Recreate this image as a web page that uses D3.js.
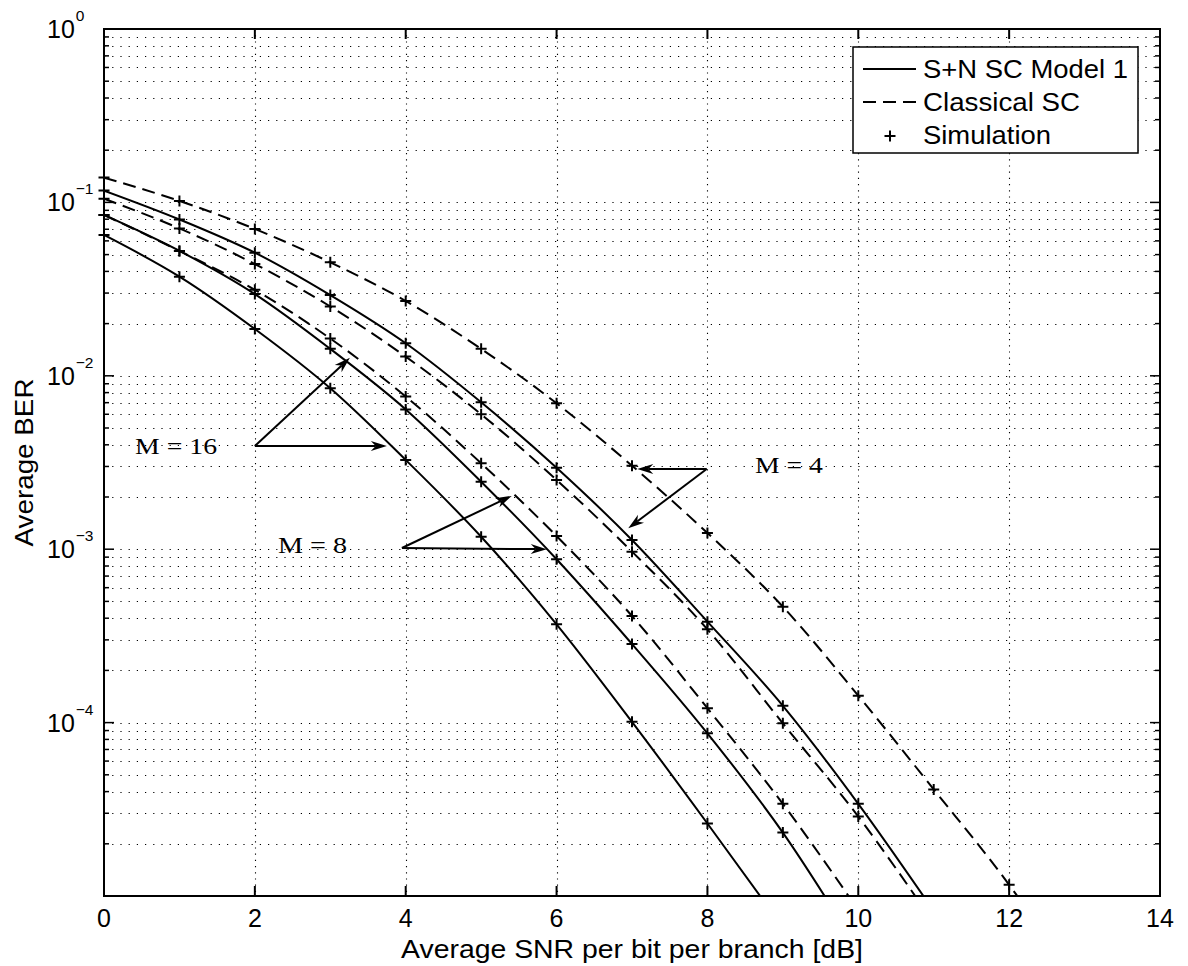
<!DOCTYPE html>
<html><head><meta charset="utf-8">
<script src="https://cdn.jsdelivr.net/npm/d3@7"></script>
<style>body{margin:0;background:#fff}</style>
</head><body><svg id="c" width="1188" height="966"></svg>
<script>
// ---- data ----
const snrDb = [0,1,2,3,4,5,6,7,8,9,10,11,12,13];
// theoretical curves (last value lies below the axis floor and is clipped)
const classicalM4  = [0.139,0.102,0.0703,0.0451,0.0270,0.0143,0.00694,0.00303,0.00124,4.66e-4,1.43e-4,4.12e-5,1.16e-5,2.7e-6];
const snModelM4    = [0.117,0.0798,0.0513,0.0292,0.0154,0.00703,0.00295,0.00113,3.82e-4,1.25e-4,3.4e-5,8.2e-6];
const classicalM8  = [0.105,0.0708,0.0441,0.0251,0.0129,0.0060,0.00251,9.68e-4,3.45e-4,9.9e-5,2.87e-5,7.0e-6];
const classicalM16 = [0.0846,0.0525,0.0313,0.0164,0.0076,0.00313,0.00119,4.12e-4,1.21e-4,3.4e-5,8.3e-6];
const snModelM8    = [0.0846,0.0525,0.0296,0.0143,0.0064,0.00245,8.75e-4,2.84e-4,8.67e-5,2.32e-5,4.9e-6];
const snModelM16   = [0.0649,0.0373,0.0186,0.00847,0.00327,0.00118,3.69e-4,1.01e-4,2.62e-5,6.6e-6];
// simulation points
const simM4a  = [0.139,0.102,0.0703,0.0451,0.0270,0.0143,0.00694,0.00303,0.00124,4.66e-4,1.43e-4,4.12e-5,1.16e-5];
const simM4b  = [0.117,0.0798,0.0513,0.0292,0.0154,0.00703,0.00295,0.00113,3.82e-4,1.25e-4,3.4e-5];
const simM8a  = [0.105,0.0708,0.0441,0.0251,0.0129,0.0060,0.00251,9.68e-4,3.45e-4,9.9e-5,2.87e-5];
const simM16a = [0.0846,0.0525,0.0313,0.0164,0.0076,0.00313,0.00119,4.12e-4,1.21e-4,3.4e-5];
const simM8b  = [0.0846,0.0525,0.0296,0.0143,0.0064,0.00245,8.75e-4,2.84e-4,8.67e-5,2.32e-5];
const simM16b = [0.0649,0.0373,0.0186,0.00847,0.00327,0.00118,3.69e-4,1.01e-4,2.62e-5];

const xTicks = [0,2,4,6,8,10,12,14];
const yTickExps = [0,-1,-2,-3,-4];
const legendLabels = ["S+N SC Model 1","Classical SC","Simulation"];
const xTitle = "Average SNR per bit per branch [dB]";
const yTitle = "Average BER";
// annotations: label, label centre, arrow start, arrow tips (data units)
const annLabels  = ["M = 16","M = 8","M = 4"];
const annLabelAt = [[0.955,3.94e-3],[2.764,1.057e-3],[9.08,3.06e-3]];
const annFrom    = [[2.0,3.94e-3],[3.95,1.016e-3],[7.99,2.9e-3]];
const annTips    = [[[3.26,0.0127],[3.75,3.94e-3]],[[5.405,2.03e-3],[5.87,1.0e-3]],[[7.07,2.9e-3],[6.95,1.32e-3]]];

// ---- layout ----
const L=104,R=1160,T=29,B=896;
const svg=d3.select("#c");
const x=d3.scaleLinear().domain([0,14]).range([L,R]);
const y=d3.scaleLog().domain([1e-5,1]).range([B,T]);
const sans="'Liberation Sans',Arial,Helvetica,sans-serif";
const serif="'Liberation Serif','Times New Roman',serif";

svg.append("rect").attr("width",1188).attr("height",966).attr("fill","#fff");
svg.append("defs").append("clipPath").attr("id","pc").append("rect")
  .attr("x",L).attr("y",T).attr("width",R-L).attr("height",B-T);

// grid
const minorVals=[];
for(let k=-5;k<0;k++) for(let m=1;m<10;m++){const v=m*Math.pow(10,k); if(v>1e-5) minorVals.push(v);}
const g=svg.append("g").attr("stroke","#000").attr("stroke-width",1.1);
g.selectAll("line.h").data(minorVals).join("line").attr("class","h").attr("stroke-dasharray","1.2,7")
  .attr("x1",L).attr("x2",R).attr("y1",d=>Math.round(y(d))+0.5).attr("y2",d=>Math.round(y(d))+0.5);
g.selectAll("line.v").data(xTicks.filter(d=>d>0&&d<14)).join("line").attr("class","v").attr("stroke-dasharray","1.2,5")
  .attr("y1",T).attr("y2",B).attr("x1",d=>Math.round(x(d))+0.5).attr("x2",d=>Math.round(x(d))+0.5);

// curves
const line=d3.line().x((d,i)=>x(snrDb[i])).y(d=>y(d)).curve(d3.curveMonotoneX);
const curves=[
  {v:classicalM4,dash:true},{v:snModelM4,dash:false},{v:classicalM8,dash:true},
  {v:classicalM16,dash:true},{v:snModelM8,dash:false},{v:snModelM16,dash:false}];
const cg=svg.append("g").attr("clip-path","url(#pc)");
curves.forEach(c=>{
  cg.append("path").attr("d",line(c.v)).attr("fill","none").attr("stroke","#000")
    .attr("stroke-width",2).attr("stroke-dasharray",c.dash?"13,7":null);
});

// simulation markers
function plus(gg,px,py,s){
  gg.append("path").attr("d",`M${px-s},${py}H${px+s}M${px},${py-s}V${py+s}`)
    .attr("stroke","#000").attr("stroke-width",2).attr("fill","none");
}
const mg=svg.append("g");
[simM4a,simM4b,simM8a,simM16a,simM8b,simM16b].forEach(arr=>{
  arr.forEach((v,i)=>plus(mg,x(snrDb[i]),y(v),5.5));
});

// axes box + ticks
const ax=svg.append("g").attr("stroke","#000").attr("stroke-width",2);
ax.append("rect").attr("x",L).attr("y",T).attr("width",R-L).attr("height",B-T).attr("fill","none");
xTicks.forEach(t=>{
  ax.append("line").attr("x1",x(t)).attr("x2",x(t)).attr("y1",B).attr("y2",B-10);
  ax.append("line").attr("x1",x(t)).attr("x2",x(t)).attr("y1",T).attr("y2",T+10);
});
minorVals.forEach(v=>{
  const major=Math.abs(Math.log10(v)-Math.round(Math.log10(v)))<1e-9;
  const len=major?10:5;
  ax.append("line").attr("x1",L).attr("x2",L+len).attr("y1",y(v)).attr("y2",y(v)).attr("stroke-width",1.5);
  ax.append("line").attr("x1",R).attr("x2",R-len).attr("y1",y(v)).attr("y2",y(v)).attr("stroke-width",1.5);
});

// tick labels
svg.append("g").selectAll("text").data(xTicks).join("text")
  .attr("x",d=>x(d)).attr("y",927).attr("text-anchor","middle")
  .attr("font-family",sans).attr("font-size",25).text(d=>d);
const yl=svg.append("g").attr("font-family",sans);
yTickExps.forEach(e=>{
  const t=yl.append("text").attr("x",47).attr("y",y(Math.pow(10,e))+9).attr("font-size",25);
  t.append("tspan").text("10");
  t.append("tspan").attr("dx",1).attr("dy",-17).attr("font-size",15.5).text(e<0?"\u2212"+(-e):String(e));
});

// axis titles
svg.append("text").attr("x",(L+R)/2).attr("y",958).attr("text-anchor","middle")
  .attr("font-family",sans).attr("font-size",25).attr("textLength",462).attr("lengthAdjust","spacingAndGlyphs").text(xTitle);
svg.append("text").attr("transform",`translate(33,${(T+B)/2}) rotate(-90)`).attr("text-anchor","middle")
  .attr("font-family",sans).attr("font-size",26).attr("textLength",168).attr("lengthAdjust","spacingAndGlyphs").text(yTitle);

// legend
const lg=svg.append("g");
lg.append("rect").attr("x",853).attr("y",47).attr("width",285).attr("height",106)
  .attr("fill","#fff").attr("stroke","#000").attr("stroke-width",1.5);
const legY=[69,102,135], legW=[205,157,128];
lg.append("line").attr("x1",863).attr("x2",916).attr("y1",legY[0]).attr("y2",legY[0]).attr("stroke","#000").attr("stroke-width",2);
lg.append("line").attr("x1",863).attr("x2",920).attr("y1",legY[1]).attr("y2",legY[1]).attr("stroke","#000").attr("stroke-width",2).attr("stroke-dasharray","13,7");
plus(lg,890,legY[2]+1,5.5);
legendLabels.forEach((s,i)=>{
  lg.append("text").attr("x",923).attr("y",legY[i]+9).attr("font-family",sans).attr("font-size",26)
    .attr("textLength",legW[i]).attr("lengthAdjust","spacingAndGlyphs").text(s);
});

// annotations
const an=svg.append("g");
function arrow(x1,y1,x2,y2){
  const dx=x2-x1, dy=y2-y1, len=Math.hypot(dx,dy), ux=dx/len, uy=dy/len, nx=-uy, ny=ux;
  const Lh=16, Wh=5;
  const bx=x2-Lh*ux, by=y2-Lh*uy, nbx=x2-0.7*Lh*ux, nby=y2-0.7*Lh*uy;
  an.append("line").attr("x1",x1).attr("y1",y1).attr("x2",nbx).attr("y2",nby).attr("stroke","#000").attr("stroke-width",2);
  an.append("path").attr("d",`M${x2},${y2}L${bx+Wh*nx},${by+Wh*ny}L${nbx},${nby}L${bx-Wh*nx},${by-Wh*ny}Z`).attr("fill","#000");
}
annLabels.forEach((lab,i)=>{
  const [fx,fy]=annFrom[i];
  annTips[i].forEach(([tx,ty])=>arrow(x(fx),y(fy),x(tx),y(ty)));
  an.append("text").attr("x",x(annLabelAt[i][0])).attr("y",y(annLabelAt[i][1])+8)
    .attr("text-anchor","middle").attr("font-family",serif).attr("font-size",24)
    .attr("textLength",i===0?82:(i===1?69:68)).attr("lengthAdjust","spacingAndGlyphs").text(lab);
});
</script></body></html>
